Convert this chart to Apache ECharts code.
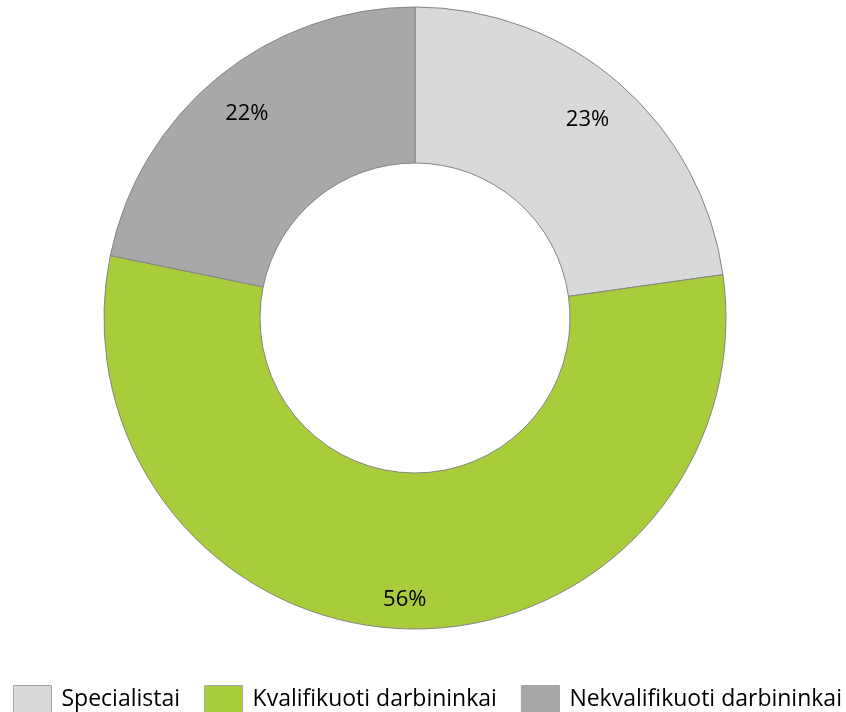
<!DOCTYPE html>
<html>
<head>
<meta charset="utf-8">
<script src="https://cdn.jsdelivr.net/npm/echarts@6/dist/echarts.min.js"></script>
<style>
  html, body { margin: 0; padding: 0; background: #fff; }
  #chart { width: 846px; height: 712px; }
</style>
</head>
<body>
<div id="chart"></div>
<script>
var categories = ['Specialistai', 'Kvalifikuoti darbininkai', 'Nekvalifikuoti darbininkai'];
var shares     = [23, 56, 22];
var colors     = ['#d8d9db', '#a9cd3a', '#a8a8a8'];

var fontName = '"Open Sans", "DejaVu Sans", sans-serif';

var pieData = categories.map(function (name, i) {
    return { name: name, value: shares[i], itemStyle: { color: colors[i] } };
});

var chart = echarts.init(document.getElementById('chart'), null, { renderer: 'canvas' });

chart.setOption({
    backgroundColor: '#ffffff',
    animation: false,
    color: colors,
    legend: {
        data: categories,
        left: 13,
        top: 685,
        width: 880,
        padding: 0,
        itemWidth: 38,
        itemHeight: 28,
        itemGap: 24,
        icon: 'rect',
        itemStyle: { borderColor: '#a6a6a6', borderWidth: 1 },
        textStyle: {
            fontFamily: fontName,
            fontSize: 23,
            color: '#000',
            padding: [0, 0, 4, 5]
        }
    },
    series: [
        {
            name: 'ring',
            type: 'pie',
            center: [415, 318],
            radius: [155, 311],
            startAngle: 90,
            clockwise: true,
            label: { show: false },
            labelLine: { show: false },
            itemStyle: { borderColor: '#858585', borderWidth: 1 },
            emphasis: { disabled: true },
            data: pieData
        },
        {
            // transparent copy that only carries the percentage labels
            name: 'labels',
            type: 'pie',
            center: [415, 318],
            radius: [215, 311],
            startAngle: 90,
            clockwise: true,
            silent: true,
            itemStyle: { color: 'transparent', borderWidth: 0 },
            label: {
                show: true,
                position: 'inside',
                formatter: '{c}%',
                fontFamily: fontName,
                fontSize: 22,
                color: '#000'
            },
            labelLayout: function (p) {
                if (p.dataIndex === 1) return { dy: 16, dx: -2 };
                if (p.dataIndex === 0) return { dy: 3, dx: -2 };
                return { dy: 2 };
            },
            labelLine: { show: false },
            emphasis: { disabled: true },
            data: categories.map(function (name, i) {
                return { name: name, value: shares[i] };
            })
        }
    ]
});
</script>
</body>
</html>
